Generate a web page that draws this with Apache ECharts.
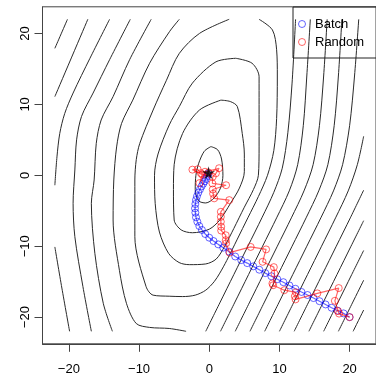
<!DOCTYPE html>
<html><head><meta charset="utf-8">
<script src="https://cdn.jsdelivr.net/npm/echarts@6/dist/echarts.min.js"></script>
<style>html,body{margin:0;padding:0;background:#fff}#c{width:376px;height:377px}</style>
</head><body><div id="c"></div>
<script>
const xTicks = [-20, -10, 0, 10, 20];
const yTicks = [-20, -10, 0, 10, 20];

// contour lines, [x, y] pairs
const lvl1a = [[-22,17.9],[-20.2,22]];
const lvl1b = [[10,-22],[12,-18],[14,-14],[16,-10],[18,-6],[19.8,-2.2],[21.1,1.5],[22,5.5]];
const lvl2a = [[-22,11.1],[-17.3,22]];
const lvl2b = [[7.9,-22],[9.9,-18],[11.9,-14],[13.9,-10],[15.9,-6],[17.7,-2.2],[19.0,1.5],[20.0,7],[20.7,14],[21.3,22]];
const lvl3a = [[-14.2,22],[-17.0,16.5],[-19.4,11.6],[-20.6,8.7],[-21.3,5.9],[-21.7,2.6],[-22,-1.4]];
const lvl3b = [[-22,-10.1],[-21,-15.9],[-19.9,-22]];
const lvl3c = [[5.8,-22],[7.8,-18],[9.8,-14],[11.8,-10],[13.8,-6],[15.6,-2.2],[16.9,1.5],[17.8,7],[18.4,14],[18.9,22]];
const lvl4a = [[-11.25,22],[-14.2,16.3],[-16.55,11.6],[-18.2,8.3],[-18.9,5.0],[-19.15,0.75],[-19.4,-3.95],[-19.15,-8.66],[-18.0,-15.7],[-16.8,-22]];
const lvl4b = [[3.7,-22],[5.7,-18],[7.7,-14],[9.7,-10],[11.7,-6],[13.5,-2.2],[14.8,1.5],[15.7,7],[16.3,14],[16.8,22]];
const lvl5a = [[-8.27,22],[-11.35,16.3],[-13.7,11.1],[-15.4,7.8],[-16.1,4.5],[-16.4,-0.66],[-16.8,-3.95],[-16.3,-11.0],[-15.1,-18.05],[-13.8,-22]];
const lvl5b = [[1.6,-22],[3.6,-18],[5.6,-14],[7.6,-10],[9.6,-6],[11.4,-2.2],[12.6,1.5],[13.4,7],[13.9,14],[14.4,22]];
const lvl6a = [[-4.26,22],[-5.67,20.25],[-8.5,15.8],[-10.9,10.6],[-12.5,7.3],[-13.2,4.0],[-13.6,-0.66],[-13.7,-6.3],[-12.8,-13.4],[-11.8,-18.05],[-10.4,-20.9],[-8.5,-21.45],[-5.7,-21.6],[-3.3,-22]];
const lvl6b = [[-0.5,-22],[1.5,-18],[3.5,-14],[5.5,-10],[7.5,-6],[9.2,-2.4],[10.4,1],[11.2,6],[11.8,13],[12.3,22]];
const lvl7 = [[2.84,22],[-1.4,20],[-4.26,17.2],[-6.1,13.4],[-8.0,9.2],[-9.9,4.5],[-10.4,2.2],[-10.6,-0.66],[-10.6,-8.66],[-9.0,-15.7],[-8.0,-16.9],[-5.7,-17.05],[-3.8,-17.1],[-2,-16.9],[-0.5,-16.2],[0.7,-15],[1.5,-13.8],[2.5,-12],[4,-9],[5.5,-6],[7,-3],[8.3,0],[9.2,3.5],[9.6,8],[9.7,14],[9.6,17.7],[9.0,20.5],[7.09,22]];
const lvl8 = [[3.78,16.5],[0.95,16.0],[-2.4,13.0],[-4.26,9.7],[-5.7,7.1],[-7.3,3],[-7.8,0],[-7.7,-4],[-7.1,-8],[-5.8,-11],[-4.3,-12.3],[-2.84,-12.6],[-0.5,-12.5],[1,-11.8],[2.2,-10],[3.5,-7.5],[5,-4.5],[6.3,-2],[7,0],[7.1,4],[7.1,10],[7.1,13.9],[6.1,15.8],[3.78,16.5]];
const lvl9 = [[1.66,10.6],[-1.4,9.2],[-3.8,5.9],[-5.0,1.5],[-5.1,-2],[-5.0,-6.3],[-4.0,-7.7],[-2.4,-8.1],[0,-7.6],[1.5,-6.3],[3,-4],[4.3,-1.8],[5,0.5],[5.0,3],[4.7,5.9],[4.0,9.7],[3,10.4],[1.66,10.6]];
const lvl10 = [[0.24,4.05],[1.2,3.6],[1.75,2.3],[1.95,0],[1.6,-1.8],[0.7,-3.2],[-0.5,-3.9],[-1.5,-3.6],[-2.0,-2],[-1.9,0],[-1.5,1.7],[-0.7,3.4],[0.24,4.05]];
const lvl11 = [[12.1,-22],[14.1,-18],[16.1,-14],[18.1,-10],[20.1,-6],[22,-2.1]];
const lvl12 = [[14.2,-22],[16.2,-18],[18.2,-14],[20.2,-10],[22,-6.4]];
const lvl13 = [[16.3,-22],[18.3,-18],[20.3,-14],[22,-10.6]];
const lvl14 = [[18.4,-22],[20.4,-18],[22,-14.8]];
const lvl15 = [[20.5,-22],[22,-19]];

const batchX = [20,19.14,18.28,17.43,16.57,15.71,14.85,14.0,13.14,12.28,11.42,10.56,9.7,8.85,7.99,7.13,6.27,5.41,4.56,3.7,2.84,1.99,1.28,0.61,0,-0.57,-1.04,-1.42,-1.7,-1.89,-1.98,-2.03,-1.98,-1.89,-1.75,-1.56,-1.32,-1.09,-0.85,-0.66,-0.47,-0.33,-0.2,-0.12];
const batchY = [-20,-19.47,-19.08,-18.68,-18.21,-17.75,-17.31,-16.88,-16.45,-16.0,-15.53,-15.07,-14.65,-14.23,-13.79,-13.31,-12.84,-12.38,-11.96,-11.45,-10.77,-10.2,-9.74,-9.27,-8.8,-8.28,-7.71,-7.15,-6.54,-5.93,-5.27,-4.66,-4.05,-3.48,-2.96,-2.45,-1.98,-1.55,-1.18,-0.85,-0.52,-0.19,0.08,0.28];

const randomX = [20,18.5,18.35,17.9,18.45,15.4,12.3,12.2,12.35,10.7,9.1,9.0,9.3,9.2,7.6,8.1,5.9,2.9,2.4,2.35,2.35,1.7,1.7,1.65,1.65,1.65,2.85,0.7,0.55,0.5,2.4,0.45,0.5,0.95,1.4,-1.2,-1.65,-2.4,-1.0,-1.4,-0.6,-0.1];
const randomY = [-20,-19.5,-19.15,-17.7,-15.9,-16.65,-17.5,-17.05,-16.5,-16.2,-15.5,-15.25,-13.85,-12.95,-12.2,-10.45,-10.1,-10.9,-9.6,-9.15,-8.45,-7.8,-7.25,-6.55,-5.85,-5.15,-3.5,-3.25,-2.6,-2.0,-1.4,-1.15,-0.2,0.28,1.0,0.3,0.85,0.8,0.1,-1.1,0.5,0.4];

const optimum = [-0.1, 0.35];

const contours = [lvl1a, lvl1b, lvl2a, lvl2b, lvl3a, lvl3b, lvl3c, lvl4a, lvl4b, lvl5a, lvl5b,
  lvl6a, lvl6b, lvl7, lvl8, lvl9, lvl10, lvl11, lvl12, lvl13, lvl14, lvl15];
const zip = (a, b) => a.map((v, i) => [v, b[i]]);
const BLUE = 'rgba(0,0,255,0.6)', RED = 'rgba(255,0,0,0.6)';
const starPath = 'path://M50 0 L60 36 L97.6 34.5 L66 56 L79.4 90.5 L50 68 L20.6 90.5 L34 56 L2.4 34.5 L40 36 Z';
const FONT = 'Liberation Sans, Arial, sans-serif';

const chart = echarts.init(document.getElementById('c'), null, {renderer: 'canvas'});
const axisCommon = {
  type: 'value', min: -23.76, max: 23.76,
  splitLine: {show: false},
  axisLine: {show: true, onZero: false, lineStyle: {color: '#444', width: 1}},
  axisTick: {show: true, length: 8, inside: false, lineStyle: {color: '#444'}},
};
const fmt = v => (v < 0 ? '\u2212' + Math.abs(v) : String(v));
const series = contours.map(c => ({
  type: 'line', data: c, showSymbol: false, symbol: 'none', smooth: 0.3,
  lineStyle: {color: '#2a2a2a', width: 1}, silent: true, z: 1
}));
series.push({
  name: 'Batch', type: 'line', data: zip(batchX, batchY), symbol: 'circle', symbolSize: 7, showSymbol: true,
  itemStyle: {color: 'rgba(0,0,0,0)', borderColor: BLUE, borderWidth: 1},
  lineStyle: {color: BLUE, width: 1.2}, z: 3
});
series.push({
  name: 'Random', type: 'line', data: zip(randomX, randomY), symbol: 'circle', symbolSize: 7, showSymbol: true,
  itemStyle: {color: 'rgba(0,0,0,0)', borderColor: RED, borderWidth: 1},
  lineStyle: {color: RED, width: 1.2}, z: 4
});
series.push({
  type: 'scatter', data: [optimum], symbol: starPath, symbolSize: 13,
  itemStyle: {color: '#000'}, z: 5
});

chart.setOption({
  animation: false,
  backgroundColor: '#fff',
  grid: {left: 42.5, top: 6.8, width: 335, height: 337, show: true, borderColor: '#444', borderWidth: 1, backgroundColor: 'transparent'},
  xAxis: Object.assign({}, axisCommon, {
    position: 'bottom',
    axisTick: Object.assign({}, axisCommon.axisTick, {customValues: xTicks}),
    axisLabel: {customValues: xTicks, margin: 19, color: '#000', fontSize: 13, fontFamily: FONT, formatter: fmt}
  }),
  yAxis: Object.assign({}, axisCommon, {
    position: 'left',
    axisTick: Object.assign({}, axisCommon.axisTick, {customValues: yTicks}),
    axisLabel: {customValues: yTicks, rotate: 90, margin: 11, color: '#000', fontSize: 13, fontFamily: FONT, formatter: fmt}
  }),
  legend: {
    orient: 'vertical', left: 293, top: 7,
    padding: [10, 20, 9, 5], itemGap: 4, itemWidth: 16, itemHeight: 7,
    borderColor: '#222', borderWidth: 1, backgroundColor: 'transparent',
    textStyle: {fontSize: 13, color: '#000', fontFamily: FONT, lineHeight: 14},
    data: [
      {name: 'Batch', icon: 'circle', itemStyle: {color: 'rgba(0,0,0,0)', borderColor: BLUE, borderWidth: 1}},
      {name: 'Random', icon: 'circle', itemStyle: {color: 'rgba(0,0,0,0)', borderColor: RED, borderWidth: 1}}
    ]
  },
  series: series
});
</script></body></html>
